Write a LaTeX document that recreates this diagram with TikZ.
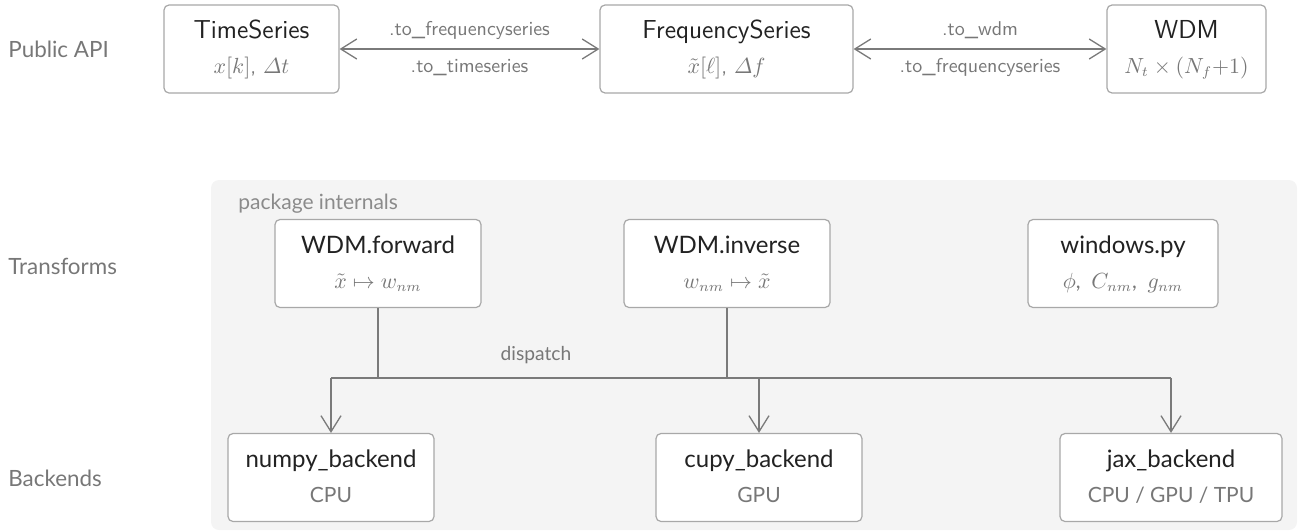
\documentclass[tikz,border=0pt]{standalone}
\usepackage{amsmath}
\usepackage{amssymb}
\usepackage{fontspec}
\newfontfamily\latofont{Lato}
\usetikzlibrary{arrows.meta, positioning}

\definecolor{panelgray}{HTML}{F4F4F4}
\definecolor{boxline}{HTML}{A8A8A8}
\definecolor{inktext}{HTML}{222222}
\definecolor{softtext}{HTML}{777777}
\definecolor{wiregray}{HTML}{7A7A7A}

\begin{document}
\begin{tikzpicture}[x=0.5pt, y=-0.5pt,
        box/.style={draw=boxline, fill=white, line width=0.6pt, rounded corners=2.5pt, minimum height=44pt, inner sep=0pt},
        head/.style={anchor=base, text=inktext, font=\sffamily\fontsize{13}{15}\selectfont},
        headl/.style={anchor=base, text=inktext, font=\latofont\fontsize{12}{14}\selectfont},
        info/.style={anchor=base, text=softtext, font=\sffamily\fontsize{10.5}{12}\selectfont},
        infol/.style={anchor=base, text=softtext, font=\latofont\fontsize{10.5}{12}\selectfont},
        edgelbl/.style={anchor=base, text=softtext, font=\sffamily\fontsize{10}{12}\selectfont},
        rowlbl/.style={anchor=west, inner sep=0pt, text=softtext, font=\latofont\fontsize{11.2}{13}\selectfont},
        wire/.style={draw=wiregray, line width=0.65pt},
        >={Straight Barb[length=8pt, width=10pt]}]

        \useasboundingbox (0,0) rectangle (1303,531);

        % --- package panel ---
        \fill[panelgray, rounded corners=4pt] (211,180) rectangle (1297,530);
        \node[anchor=base west, inner sep=0pt, text=softtext!85, font=\latofont\fontsize{10.5}{12}\selectfont] (pkg) at (238,209) {package internals};

        % row labels
        \node[rowlbl] (api) at (8,49) {Public API};
        \node[rowlbl] (trf) at (8,266) {Transforms};
        \node[rowlbl] (bkd) at (8,478) {Backends};

        % --- public API ---
        \node[box, minimum width=87.5pt] (ts) at (251.5,49) {};
        \node[box, minimum width=126.5pt] (fs) at (726.5,49) {};
        \node[box, minimum width=79.5pt] (wdm) at (1186.5,49) {};

        \foreach \nm/\ttl/\sb in {ts/TimeSeries/{$x[k]$, $\varDelta t$},
                fs/FrequencySeries/{$\tilde{x}[\ell]$, $\varDelta f$},
                wdm/WDM/{$N_t \times (N_f{+}1)$}} {
            \node[head] (\nm-t) at ([yshift=5.25pt]\nm.center) {\ttl};
            \node[info] (\nm-s) at ([yshift=-12pt]\nm.center) {\sb};
        }

        \draw[wire, <->] (ts) -- (fs);
        \draw[wire, <->] (fs) -- (wdm);
        \node[edgelbl] (tofs) at (469.5,35) {.to\_frequencyseries};
        \node[edgelbl] (tots) at (469.5,72) {.to\_timeseries};
        \node[edgelbl] (towdm) at (980,35) {.to\_wdm};
        \node[edgelbl] (tofs2) at (980,72) {.to\_frequencyseries};

        % --- transforms ---
        \node[box, minimum width=103pt] (fwd) at (378,263.5) {};
        \node[box, minimum width=103pt] (inv) at (727,263.5) {};
        \node[box, minimum width=95pt] (win) at (1123,263.5) {};

        % --- backends ---
        \node[box, minimum width=103pt] (np) at (331,477.5) {};
        \node[box, minimum width=103pt] (cp) at (759,477.5) {};
        \node[box, minimum width=111pt] (jx) at (1171,477.5) {};

        \foreach \nm/\ttl/\sb in {fwd/WDM.forward/{$\tilde{x} \mapsto w_{nm}$},
                inv/WDM.inverse/{$w_{nm} \mapsto \tilde{x}$},
                win/windows.py/{$\phi$, \ $C_{nm}$, \ $g_{nm}$},
                np/numpy\_backend/CPU, cp/cupy\_backend/GPU,
                jx/jax\_backend/{CPU / GPU / TPU}} {
            \node[headl] (\nm-t) at ([yshift=5.25pt]\nm.center) {\ttl};
            \node[infol] (\nm-s) at ([yshift=-12.25pt]\nm.center) {\sb};
        }

        % dispatch
        \coordinate (busl) at (331,378);
        \coordinate (busr) at (1171,378);
        \draw[wire] (fwd.south) -- (fwd.south |- busl);
        \draw[wire] (inv.south) -- (inv.south |- busl);
        \draw[wire] (busl) -- (busr);
        \foreach \b in {np, cp, jx}
            \draw[wire, ->] (\b.north |- busl) -- (\b.north);
        \node[anchor=base, text=softtext, font=\latofont\fontsize{9.6}{12}\selectfont] (disp) at (536,360) {dispatch};

\end{tikzpicture}
\end{document}
